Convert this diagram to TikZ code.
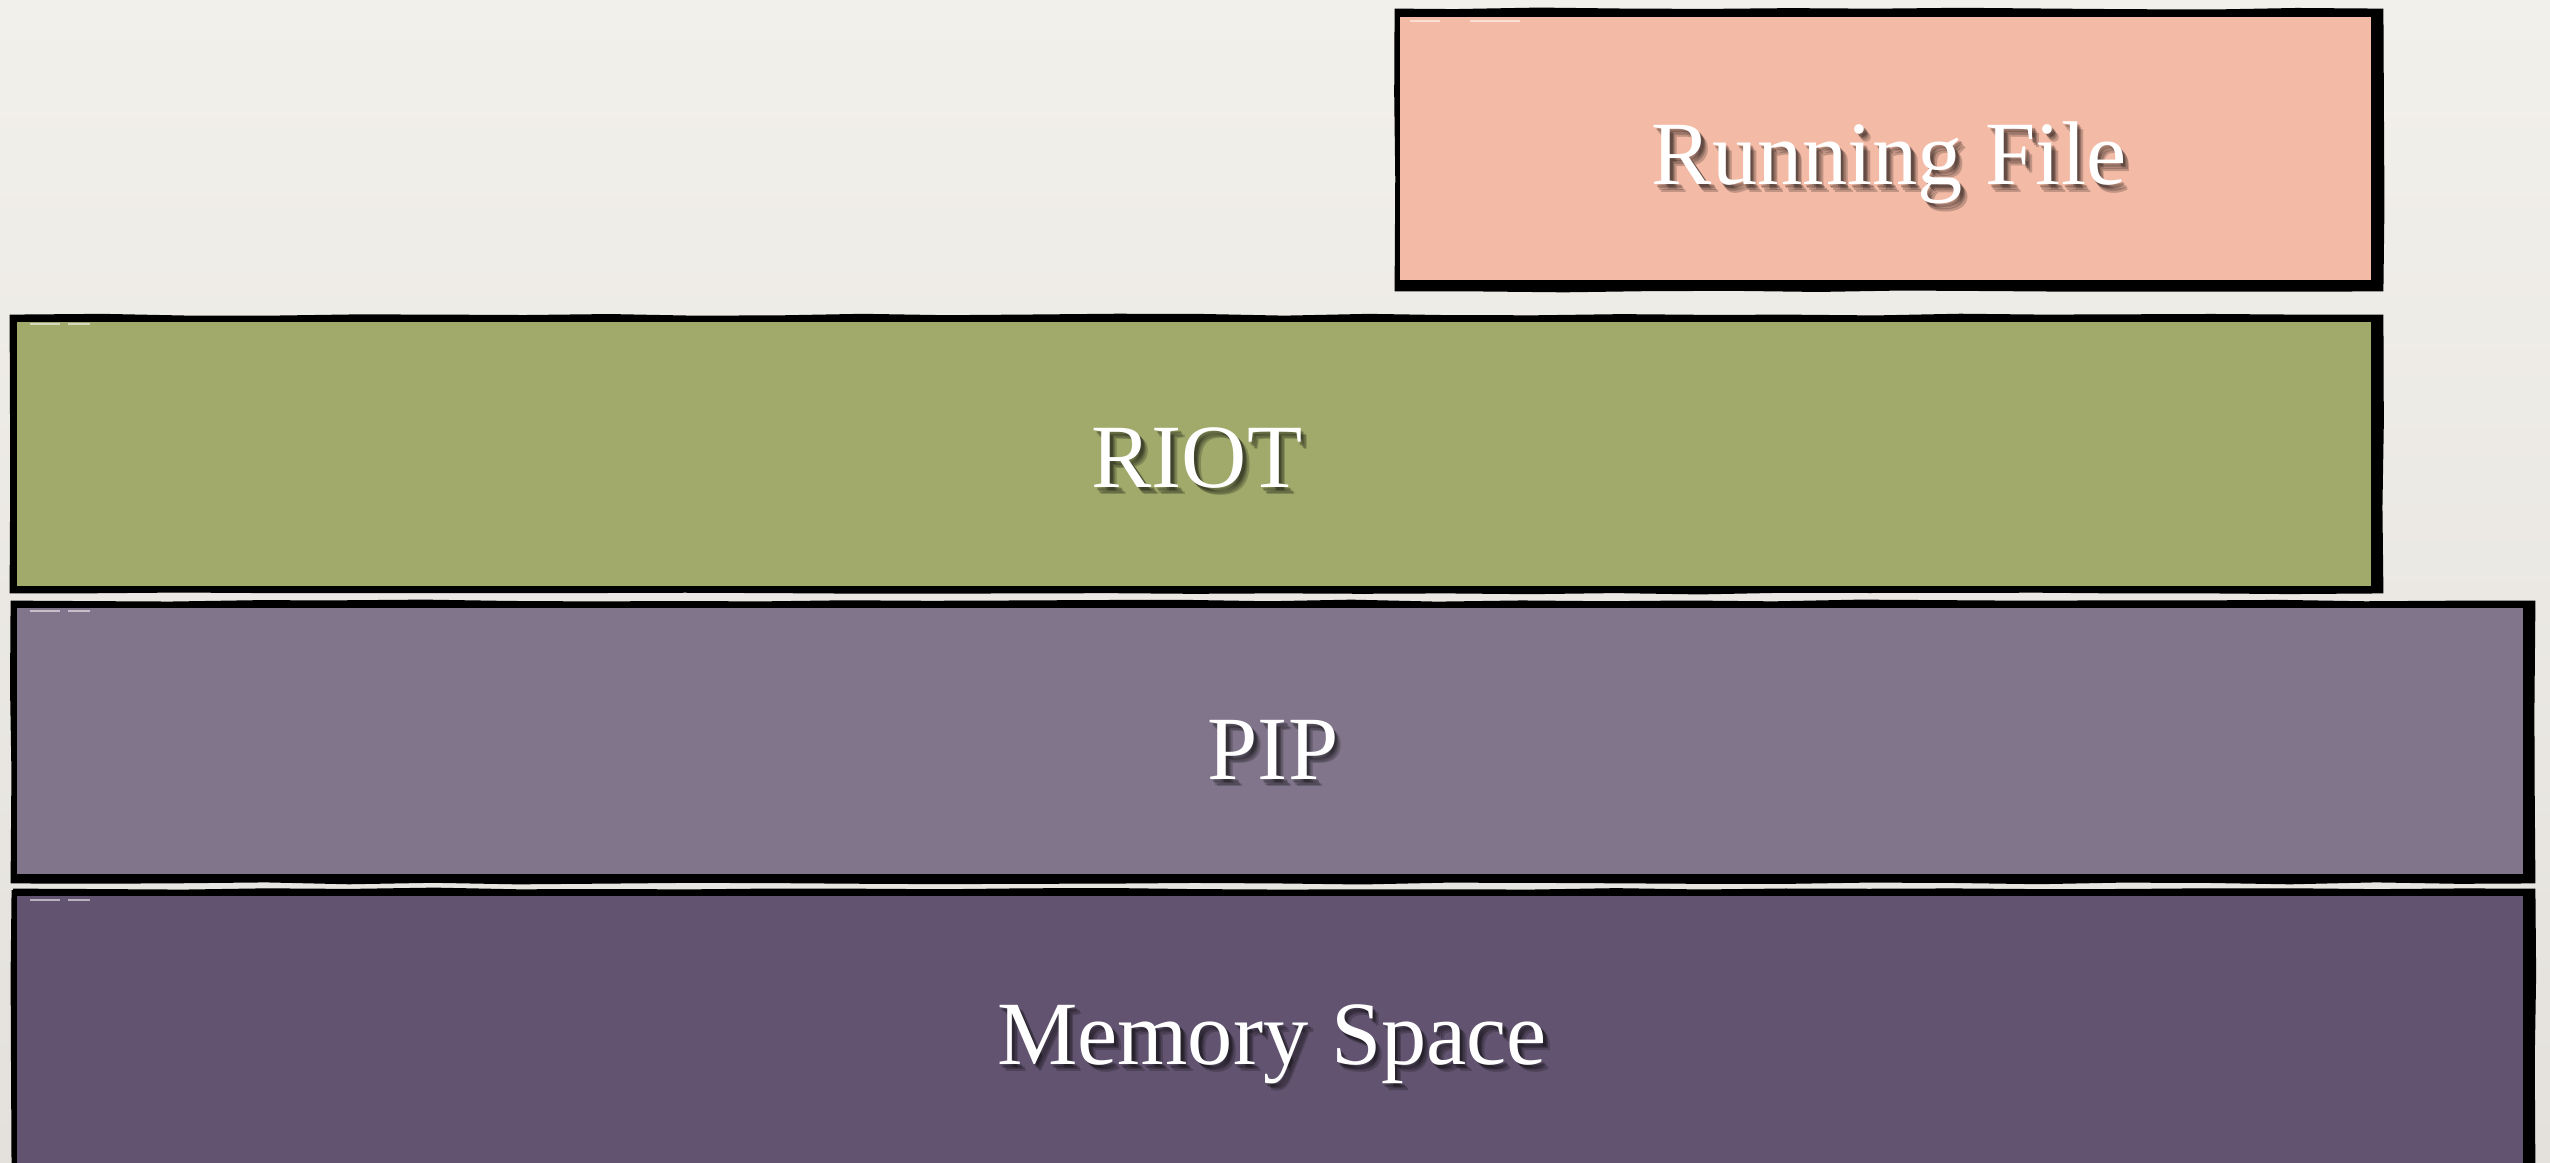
\documentclass[tikz,border=0pt]{standalone}
\usepackage{fontspec}
\setmainfont{Liberation Serif}
\usetikzlibrary{decorations.pathmorphing}

\definecolor{bgtop}{HTML}{F2F0EA}
\definecolor{bgbot}{HTML}{E4E1DC}
\definecolor{runcol}{HTML}{F3BAA5}
\definecolor{riotcol}{HTML}{A1AA6B}
\definecolor{pipcol}{HTML}{80758A}
\definecolor{memcol}{HTML}{625470}

\tikzset{
  frameink/.style={fill=black},
  roughline/.style={draw=black, line width=0.8pt, decorate,
    decoration={random steps, segment length=24pt, amplitude=0.3pt}},
  scratch/.style={draw=white, opacity=0.55, line width=0.35pt},
  layertext/.style={text=white, font=\fontsize{25.7}{30}\selectfont, inner sep=0pt},
  layershadow/.style={text=black, opacity=0.2, font=\fontsize{25.7}{30}\selectfont, inner sep=0pt},
}

% label with a soft drop shadow: name, position, text
\newcommand\shadowlabel[3]{%
  \node[layershadow, xshift=1.0pt, yshift=-1.2pt] (#1-s1) at (#2) {#3};
  \node[layershadow, xshift=1.4pt, yshift=-1.6pt] (#1-s2) at (#2) {#3};
  \node[layershadow, xshift=0.7pt, yshift=-0.8pt] (#1-s3) at (#2) {#3};
  \node[layershadow, xshift=1.9pt, yshift=-2.1pt] (#1-s4) at (#2) {#3};
  \node[layertext] (#1) at (#2) {#3};
}

\begin{document}
\begin{tikzpicture}[x=0.01cm, y=-0.01cm]
\useasboundingbox (0,0) rectangle (2550,1162);
\shade[top color=bgtop, bottom color=bgbot] (0,0) rectangle (2550,1162);

% Running File
\fill[frameink] (1396,10) rectangle (2382,290);
\fill[runcol] (1400,17) rectangle (2371,280);
\draw[roughline] (1396,10) rectangle (2382,290);
\draw[scratch] (1410,21) -- (1440,21) (1470,21) -- (1520,21);
\shadowlabel{runfile}{1889,163}{Running File}

% RIOT
\fill[frameink] (11,316) rectangle (2382,592);
\fill[riotcol] (17,322) rectangle (2371,586);
\draw[roughline] (11,316) rectangle (2382,592);
\draw[scratch] (30,324) -- (60,324) (68,324) -- (90,324);
\shadowlabel{riot}{1197,458}{RIOT}

% PIP
\fill[frameink] (12,602) rectangle (2534,882);
\fill[pipcol] (17,608) rectangle (2523,874);
\draw[roughline] (12,602) rectangle (2534,882);
\draw[scratch] (30,611) -- (60,611) (68,611) -- (90,611);
\shadowlabel{pip}{1273,750}{PIP}

% Memory Space
\fill[frameink] (13,890) rectangle (2534,1175);
\fill[memcol] (17,896) rectangle (2523,1175);
\draw[roughline] (13,890) -- (2534,890) -- (2534,1175);
\draw[roughline] (13,890) -- (13,1175);
\draw[scratch] (30,900) -- (60,900) (68,900) -- (90,900);
\shadowlabel{mem}{1272,1044}{Memory Space}
\end{tikzpicture}
\end{document}
